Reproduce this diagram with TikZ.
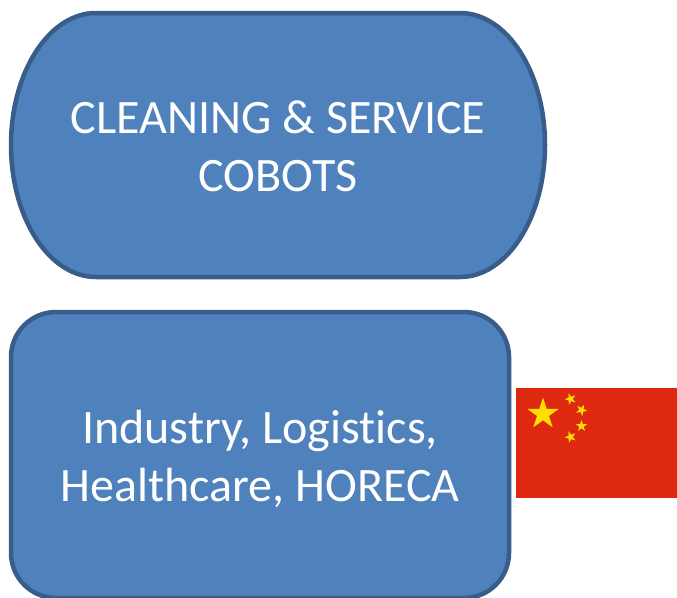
\documentclass[tikz,border=0pt]{standalone}
\usepackage{fontspec}
\setmainfont[Ligatures=NoCommon]{Carlito}
\usetikzlibrary{shapes.geometric}
\definecolor{boxfill}{HTML}{4F81BD}
\definecolor{boxline}{HTML}{385D8A}
\definecolor{flagred}{HTML}{DE2910}
\definecolor{flagyel}{HTML}{FFDE00}
\tikzset{x=1pt,y=-1pt,
 box/.style={draw=boxline,line width=4.5pt,fill=boxfill,inner sep=0pt},
 lbl/.style={text=white,font=\fontsize{48}{58}\selectfont,align=center,inner sep=0pt},
 bigstar/.style={star,star points=5,star point ratio=2.618,fill=flagyel,inner sep=0pt,minimum size=#1}}
\begin{document}
\begin{tikzpicture}
\useasboundingbox (0,0) rectangle (677,597);
\clip (0,0) rectangle (677,597);
\draw[box] (96,13) arc[start angle=90,end angle=180,x radius=85pt,y radius=132pt]
  arc[start angle=180,end angle=270,x radius=85pt,y radius=132pt]
  -- (460,277)
  arc[start angle=270,end angle=360,x radius=85pt,y radius=132pt]
  arc[start angle=0,end angle=90,x radius=85pt,y radius=132pt]
  -- cycle;
\node[lbl] (toplbl) at (278,146) {CLEANING \& SERVICE\\COBOTS};
\node[box,rounded corners=45pt,minimum width=498pt,minimum height=286pt] (bot) at (260,455) {};
\node[lbl] (botlbl) at (260,458.5) {Industry, Logistics,\\Healthcare, HORECA};
\fill[flagred] (516,388) rectangle (677,498);
\node[bigstar=33pt] (s0) at (543,414) {};
\node[bigstar=12pt,rotate=20] (s1) at (570.5,399) {};
\node[bigstar=12pt,rotate=45] (s2) at (581.5,410) {};
\node[bigstar=12pt,rotate=0] (s3) at (581.5,426) {};
\node[bigstar=12pt,rotate=20] (s4) at (570.5,437) {};
\end{tikzpicture}
\end{document}
